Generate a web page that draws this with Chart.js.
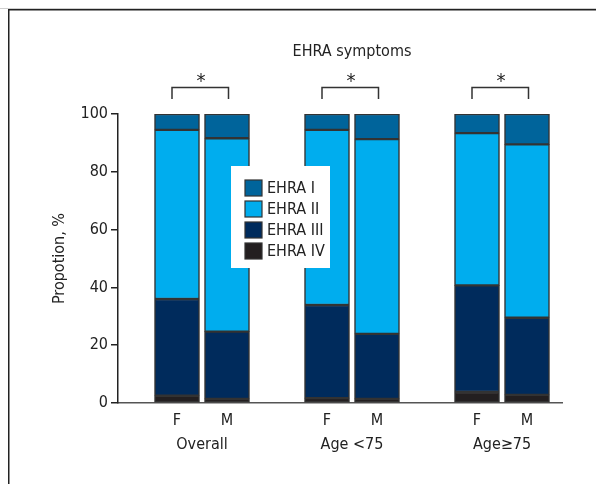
<!DOCTYPE html>
<html>
<head>
<meta charset="utf-8">
<script src="https://cdn.jsdelivr.net/npm/chart.js@4"></script>
<style>
  html, body { margin: 0; padding: 0; background: #fff; }
  #wrap { width: 596px; height: 484px; }
</style>
</head>
<body>
<div id="wrap"><canvas id="c" width="596" height="484"></canvas></div>
<script>
    // bar order: Overall F/M, Age <75 F/M, Age>=75 F/M
    var groups = ["Overall", "Age <75", "Age\u226575"];
    var sexes = ["F", "M", "F", "M", "F", "M"];
    var xPos = [0, 1, 3, 4, 6, 7];

    var ehraI   = [5.5, 8.4, 5.5, 8.7, 6.6, 10.5];
    var ehraII  = [58.5, 66.9, 60.6, 67.4, 52.7, 60.0];
    var ehraIII = [33.5, 23.3, 32.2, 22.5, 36.9, 26.7];
    var ehraIV  = [2.5, 1.4, 1.7, 1.4, 3.8, 2.8];

    var yTicks = [0, 20, 40, 60, 80, 100];

    var FONT = "'Liberation Sans Narrow', 'DejaVu Sans Condensed', sans-serif";
    var EDGE = "#333";

    var series = [
        { label: "EHRA IV", values: ehraIV, color: "#231f20" },
        { label: "EHRA III", values: ehraIII, color: "#002b5c" },
        { label: "EHRA II", values: ehraII, color: "#00adee" },
        { label: "EHRA I", values: ehraI, color: "#00649b" }
    ];

    var datasets = series.map(function (s) {
        return {
            label: s.label,
            data: s.values.map(function (v, i) { return { x: xPos[i], y: v }; }),
            backgroundColor: s.color,
            borderColor: EDGE,
            borderWidth: 1.5,
            borderSkipped: false,
            barThickness: 45
        };
    });

    // frame, title, brackets, group names and the boxed legend
    var extras = {
        id: "extras",
        beforeDraw: function (chart) {
            var ctx = chart.ctx;
            ctx.save();
            ctx.fillStyle = "#fff";
            ctx.fillRect(0, 0, chart.width, chart.height);
            ctx.strokeStyle = "#cfcfcf";
            ctx.lineWidth = 1;
            ctx.beginPath(); ctx.moveTo(0, 8.5); ctx.lineTo(chart.width, 8.5); ctx.stroke();
            ctx.strokeStyle = "#222";
            ctx.lineWidth = 1.5;
            ctx.beginPath();
            ctx.moveTo(chart.width, 9.75);
            ctx.lineTo(8.75, 9.75);
            ctx.lineTo(8.75, chart.height);
            ctx.stroke();
            ctx.restore();
        },
        afterDraw: function (chart) {
            var ctx = chart.ctx;
            var xs = chart.scales.x;
            ctx.save();
            ctx.fillStyle = "#222";
            ctx.textAlign = "center";
            ctx.textBaseline = "middle";
            ctx.font = "16px " + FONT;
            ctx.fillText("EHRA symptoms", xs.getPixelForValue(3.5), 52);

            for (var g = 0; g < groups.length; g++) {
                var a = xs.getPixelForValue(xPos[g * 2]);
                var b = xs.getPixelForValue(xPos[g * 2 + 1]);
                ctx.font = "16px " + FONT;
                ctx.fillText(groups[g], (a + b) / 2, 445);

                ctx.strokeStyle = EDGE;
                ctx.lineWidth = 1.5;
                ctx.beginPath();
                ctx.moveTo(a - 5, 99);
                ctx.lineTo(a - 5, 87.5);
                ctx.lineTo(b + 1.5, 87.5);
                ctx.lineTo(b + 1.5, 99);
                ctx.stroke();
                ctx.font = "20px " + FONT;
                ctx.textBaseline = "alphabetic";
                ctx.fillText("*", (a + b) / 2 - 1, 87);
                ctx.textBaseline = "middle";
            }

            // legend box
            ctx.fillStyle = "#fff";
            ctx.fillRect(231, 166, 99, 102);
            ctx.font = "16px " + FONT;
            ctx.textAlign = "left";
            for (var k = 0; k < series.length; k++) {
                var s = series[series.length - 1 - k];
                var cy = 188 + k * 21;
                ctx.fillStyle = s.color;
                ctx.fillRect(245, cy - 8, 17, 16);
                ctx.strokeStyle = EDGE;
                ctx.lineWidth = 1.2;
                ctx.strokeRect(245, cy - 8, 17, 16);
                ctx.fillStyle = "#222";
                ctx.fillText(s.label, 267, cy + 1);
            }
            ctx.restore();
        }
    };

    new Chart(document.getElementById("c"), {
        type: "bar",
        data: { datasets: datasets },
        options: {
            responsive: false,
            animation: false,
            layout: { padding: { left: 0, right: 34, top: 114, bottom: 0 } },
            plugins: {
                legend: { display: false },
                title: { display: false },
                tooltip: { enabled: false }
            },
            scales: {
                x: {
                    type: "linear",
                    stacked: true,
                    offset: false,
                    min: -1.18,
                    max: 7.7,
                    grid: { display: false, offset: false },
                    border: { color: "#555", width: 1.5 },
                    afterBuildTicks: function (scale) {
                        scale.ticks = xPos.map(function (v) { return { value: v }; });
                    },
                    afterFit: function (scale) { scale.height = 81; },
                    ticks: {
                        autoSkip: false,
                        maxRotation: 0,
                        padding: 0,
                        color: "#222",
                        font: { family: FONT, size: 16 },
                        callback: function (v) {
                            var i = xPos.indexOf(v);
                            return i < 0 ? "" : sexes[i];
                        }
                    }
                },
                y: {
                    stacked: true,
                    min: 0,
                    max: 100,
                    afterBuildTicks: function (scale) {
                        scale.ticks = yTicks.map(function (v) { return { value: v }; });
                    },
                    afterFit: function (scale) { scale.width = 118; },
                    grid: { drawOnChartArea: false, drawTicks: true, tickLength: 7, color: "#222", lineWidth: 1.5 },
                    border: { color: "#222", width: 1.5 },
                    ticks: {
                        padding: 3,
                        color: "#222",
                        font: { family: FONT, size: 16 }
                    },
                    title: {
                        display: true,
                        text: "Propotion, %",
                        color: "#222",
                        padding: { top: 50, bottom: 0 },
                        font: { family: FONT, size: 16 }
                    }
                }
            }
        },
        plugins: [extras]
    });
</script>
</body>
</html>
